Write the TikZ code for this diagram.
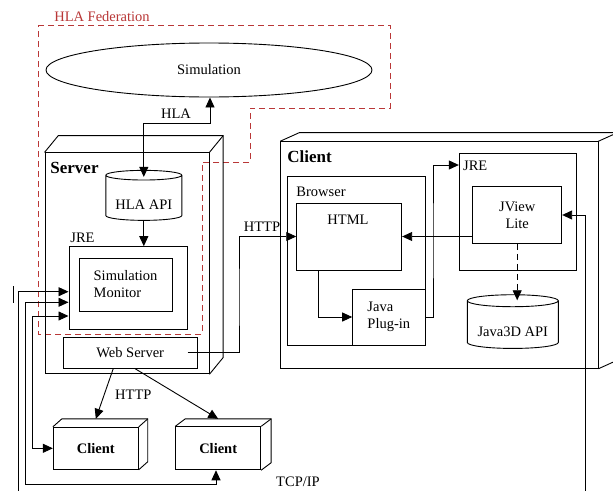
\documentclass[tikz,border=0pt]{standalone}
\usepackage{fontspec}
\setmainfont{Liberation Serif}
\usetikzlibrary{shapes.geometric,arrows.meta,calc}

\definecolor{fedred}{RGB}{185,55,55}
\tikzset{
	box/.style={draw, rectangle, inner sep=0pt},
	db/.style={draw, cylinder, shape border rotate=90, aspect=0.17, inner sep=0pt},
	lbl/.style={inner sep=0pt},
	fedline/.style={fedred, dash pattern=on 6pt off 4pt},
	boldlbl/.style={font=\fontsize{17}{20}\selectfont\bfseries},
}
% top and side face of a 3D box
\newcommand{\boxdepth}[3]{%
	\draw (#1.north west) -- ++(#2,#3) -- ($(#1.north east)+(#2,#3)$) -- ($(#1.south east)+(#2,#3)$) -- (#1.south east);
	\draw (#1.north east) -- ++(#2,#3);
}

\begin{document}
\begin{tikzpicture}[x=1pt, y=-1pt, line width=0.9pt, >={Triangle[length=10pt,width=9pt]},
	font={\fontsize{14.5}{17}\selectfont}]
	\fill[white] (0,0) rectangle (613,490);
	\path[use as bounding box, clip] (0,0) rectangle (613,490);

	% HLA federation
	\draw[fedline] (38,25) -- (390,25) -- (390,108) -- (250,108) -- (250,162) -- (202,162) -- (202,334) -- (38,334) -- cycle;
	\node[lbl, text=fedred] (fed) at (102,17) {HLA Federation};
	\node[draw, ellipse, minimum width=326pt, minimum height=54pt, inner sep=0pt] (sim) at (209,70) {Simulation};

	% Server
	\node[box, minimum width=164pt, minimum height=221pt] (server) at (127,263.3) {};
	\boxdepth{server}{13.7}{-16.7}
	\node[lbl, boldlbl, anchor=west] (serverlbl) at (50,168) {Server};
	\node[db, minimum width=76pt, minimum height=50pt] (hlaapi) at (143.8,198) {\phantom{HLA API}};
	\node[lbl] (hlaapilbl) at (143.8,205) {HLA API};
	\node[box, minimum width=118.7pt, minimum height=82.3pt] (jre1) at (128.3,287.8) {};
	\node[lbl] (jre1lbl) at (82.5,238) {JRE};
	\node[box, align=left, minimum width=93pt, minimum height=53pt] (simmon) at (125.5,284.5) {Simulation\\Monitor};
	\node[box, minimum width=133.7pt, minimum height=31pt] (ws) at (130.2,352.8) {Web Server};

	% Client
	\node[box, minimum width=317.3pt, minimum height=226.6pt] (client) at (439.3,255) {};
	\boxdepth{client}{19.3}{-8.7}
	\node[lbl, boldlbl, anchor=west] (clientlbl) at (287,157) {Client};
	\node[box, minimum width=138pt, minimum height=168.3pt] (browser) at (356,260.8) {};
	\node[lbl, anchor=west] (browserlbl) at (296,192) {Browser};
	\node[box, minimum width=105pt, minimum height=67pt] (html) at (349.2,236.5) {};
	\node[lbl] (htmllbl) at (348,220) {HTML};
	\node[box, align=left, minimum width=72.3pt, minimum height=56pt] (plugin) at (388.8,317) {Java\\Plug-in};
	\node[box, minimum width=117.4pt, minimum height=116.7pt] (jre2) at (518,211.7) {};
	\node[lbl, anchor=west] (jre2lbl) at (462.7,166) {JRE};
	\node[box, align=center, minimum width=89pt, minimum height=56.6pt] (jview) at (517.2,215) {JView\\Lite};
	\node[db, minimum width=91pt, minimum height=53.7pt] (j3d) at (512.8,324.8) {\phantom{Java3D API}};
	\node[lbl] (j3dlbl) at (512.8,331.5) {Java3D API};

	% other clients
	\node[box, font=\fontsize{14.5}{17}\selectfont\bfseries, minimum width=85pt, minimum height=42pt] (client1) at (95.8,448.3) {Client};
	\boxdepth{client1}{9}{-8}
	\node[box, font=\fontsize{14.5}{17}\selectfont\bfseries, minimum width=85pt, minimum height=43pt] (client2) at (218.2,448.3) {Client};
	\boxdepth{client2}{10}{-7.5}

	% HLA link
	\coordinate (hlabend) at (210,123.3);
	\draw[<->] ([yshift=-7pt]hlaapi.north) |- (hlabend) -- (hlabend |- sim.south);
	\node[lbl] (hlalbl) at (176,114) {HLA};
	\draw[->] (hlaapi.south) -- (hlaapi.south |- jre1.north);

	% TCP/IP links
	\coordinate (tcpa) at (18.3,291.7);
	\coordinate (tcpb) at (25.7,302.3);
	\coordinate (tcpc) at (32.3,316);
	\coordinate (tcpfar) at (585,500);
	\coordinate (tcpbot) at (216,484.3);
	\draw[<->] (tcpa -| jre1.west) -- (tcpa) |- (tcpfar) |- (jview.east);
	\draw[<->] (tcpb -| jre1.west) -- (tcpb) |- (tcpbot) -- (tcpbot |- client2.south);
	\draw[<->] (tcpc -| jre1.west) -- (tcpc) |- (client1.west);
	\draw (13.3,286) -- (13.3,302.7);
	\node[lbl] (tcplbl) at (298,482) {TCP/IP};

	% HTTP links
	\coordinate (httpbend) at (239,300);
	\draw[->] ([xshift=-10pt]ws.east) -| (httpbend) |- (html.west);
	\node[lbl] (httplbl) at (262,227) {HTTP};
	\draw[->] ([xshift=-17pt]ws.south) -- ([yshift=8pt]client1.north);
	\draw[->] ([xshift=5pt]ws.south) -- ([yshift=7.5pt]client2.north);
	\node[lbl] (httplbl2) at (133.3,395) {HTTP};

	% inside the client
	\draw[->] ([xshift=-31pt]html.south) |- (plugin.west);
	\coordinate (pjbend) at (433,240);
	\draw[->] (plugin.east) -| (pjbend) |- (jre2.west |- 0,165);
	\draw[->] (jview.west |- html.east) -- (html.east);
	\draw[->, dash pattern=on 6pt off 4pt] (jview.south) -- ($(jview.south |- j3d.north)+(0,6)$);

\end{tikzpicture}
\end{document}
